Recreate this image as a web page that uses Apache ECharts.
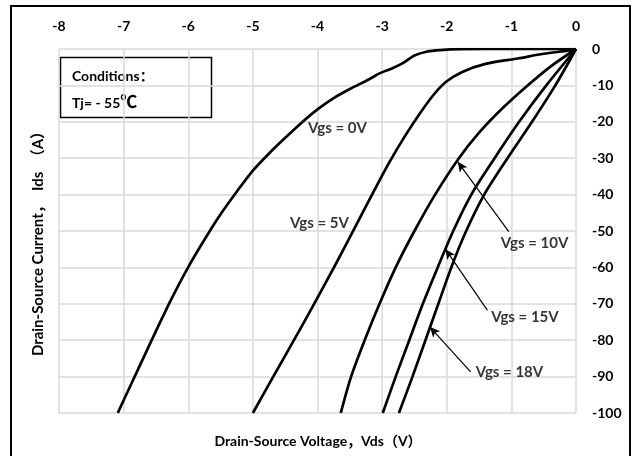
<!DOCTYPE html>
<html>
<head>
    <meta charset="utf-8" />
    <title>Drain-Source Characteristics</title>
    <style>
        html, body { margin: 0; padding: 0; background: #fff; }
    </style>
</head>
<body>
    <div id="divChart" style="width:637px;height:456px;"></div>

    <script src="https://cdn.jsdelivr.net/npm/echarts@6/dist/echarts.min.js"></script>
    <script>
        // curve data: [Vds (V), Ids (A)]
        var vgs0 = [[0, 0], [-1, 0], [-1.8, -0.05], [-2.1, -0.3], [-2.3, -0.7], [-2.5, -1.8], [-2.68, -3.9], [-2.84, -5.3],
            [-3.04, -6.7], [-3.2, -8.3], [-3.5, -11.0], [-3.75, -13.5], [-4.0, -16.6], [-4.25, -20.3], [-4.5, -24.4],
            [-4.75, -28.7], [-5.0, -33.4], [-5.25, -39.2], [-5.5, -45.4], [-5.75, -52.4], [-6.0, -59.9],
            [-6.25, -68.3], [-6.5, -77.5], [-6.75, -87], [-7.0, -96.5], [-7.09, -100]];
        var vgs5 = [[0, 0], [-0.1, -0.4], [-0.5, -1.3], [-0.9, -2.6], [-1.4, -4.1], [-1.76, -6.3], [-2.01, -9],
            [-2.2, -12.5], [-2.4, -17.3], [-2.65, -24.0], [-2.9, -31.5], [-3.15, -39.8], [-3.4, -48.3],
            [-3.65, -56.8], [-3.9, -65.1], [-4.15, -73.2], [-4.4, -81.1], [-4.7, -90.5], [-5.0, -100]];
        var vgs10 = [[0, 0], [-0.4, -4.9], [-0.78, -10.5], [-1.15, -16.5], [-1.5, -23], [-1.82, -30.2],
            [-2.18, -40], [-2.5, -50], [-2.79, -60], [-3.04, -70], [-3.27, -80], [-3.48, -90], [-3.64, -100]];
        var vgs15 = [[0, 0], [-0.46, -10], [-0.88, -20], [-1.26, -30], [-1.62, -40], [-1.9, -50],
            [-2.14, -60], [-2.37, -70], [-2.58, -80], [-2.79, -90], [-2.99, -100]];
        var vgs18 = [[0, 0], [-0.32, -10], [-0.68, -20], [-1.06, -30], [-1.42, -40], [-1.7, -50],
            [-1.93, -60], [-2.13, -70], [-2.33, -80], [-2.53, -90], [-2.74, -100]];

        var curveNames = ['Vgs = 0V', 'Vgs = 5V', 'Vgs = 10V', 'Vgs = 15V', 'Vgs = 18V'];
        var curves = [vgs0, vgs5, vgs10, vgs15, vgs18];

        // label anchor points and arrows (data coordinates)
        var labelPos = [[-3.69, -21.8], [-3.97, -47.9], [-0.64, -53.3], [-0.79, -73.7], [-1.03, -88.8]];
        var arrows = [
            [[-1.04, -50.2], [-1.83, -31.0]],
            [[-1.37, -71.8], [-2.02, -55.0]],
            [[-1.63, -88.7], [-2.26, -76.4]]
        ];

        var xTicks = { min: -8, max: 0, step: 1 };
        var yTicks = { min: -100, max: 0, step: 10 };

        var FONT = "Lato, 'Noto Sans CJK SC', sans-serif";

        var myChart = echarts.init(document.getElementById('divChart'), null, { renderer: 'canvas' });

        var series = curves.map(function (d, i) {
            return {
                name: curveNames[i],
                type: 'line',
                data: d,
                showSymbol: false,
                smooth: 0.3,
                lineStyle: { color: '#000', width: 2.7 },
                z: 3
            };
        });

        series.push({
            name: 'labels',
            type: 'scatter',
            symbolSize: 0,
            data: curveNames.map(function (n, i) { return { name: n, value: labelPos[i] }; }),
            label: {
                show: true,
                position: 'inside',
                formatter: '{b}',
                color: '#000',
                fontFamily: FONT,
                fontWeight: 'bold',
                fontSize: 15
            },
            markLine: {
                silent: true,
                symbol: ['none', 'arrow'],
                symbolSize: [7, 10],
                label: { show: false },
                lineStyle: { color: '#000', width: 1.2, type: 'solid' },
                data: arrows.map(function (a) {
                    return [{ coord: a[0] }, { coord: a[1] }];
                })
            },
            z: 4
        });

        var option = {
            backgroundColor: '#fff',
            animation: false,
            grid: { left: 59, right: 61, top: 49, bottom: 43 },
            xAxis: {
                type: 'value',
                position: 'top',
                min: xTicks.min,
                max: xTicks.max,
                interval: xTicks.step,
                axisLine: { show: false },
                axisTick: { show: false },
                splitLine: { show: true, lineStyle: { color: '#d9d9d9', width: 1.5 } },
                axisLabel: { margin: 16, color: '#000', fontFamily: FONT, fontWeight: 'bold', fontSize: 14 }
            },
            yAxis: {
                type: 'value',
                position: 'right',
                min: yTicks.min,
                max: yTicks.max,
                interval: yTicks.step,
                axisLine: { show: false },
                axisTick: { show: false },
                splitLine: { show: true, lineStyle: { color: '#d9d9d9', width: 1.5 } },
                axisLabel: { margin: 16, color: '#000', fontFamily: FONT, fontWeight: 'bold', fontSize: 14 }
            },
            series: series,
            graphic: [
                {   // outer frame (bottom edge falls outside the picture)
                    type: 'rect',
                    shape: { x: 11, y: 6, width: 619, height: 460 },
                    style: { fill: 'none', stroke: '#000', lineWidth: 2 },
                    z: 10
                },
                {
                    type: 'group',
                    z: 10,
                    children: [
                        {
                            type: 'rect',
                            shape: { x: 60.5, y: 57.5, width: 151, height: 60 },
                            style: { fill: '#fff', stroke: '#000', lineWidth: 1.5 }
                        },
                        {
                            type: 'text',
                            x: 72, y: 76,
                            style: {
                                text: 'Conditions：', fill: '#000', font: 'bold 14px ' + FONT,
                                verticalAlign: 'middle'
                            }
                        },
                        {
                            type: 'text',
                            x: 72, y: 103,
                            style: {
                                text: 'Tj= - 55{c|℃}', fill: '#000', font: 'bold 14px ' + FONT,
                                verticalAlign: 'middle',
                                rich: { c: { fontSize: 17, fontWeight: 'bold', fontFamily: FONT, fill: '#000' } }
                            }
                        }
                    ]
                },
                {
                    type: 'text',
                    x: 318, y: 441,
                    z: 10,
                    style: {
                        text: 'Drain-Source Voltage，Vds（V）', fill: '#000', font: 'bold 14px ' + FONT,
                        align: 'center', verticalAlign: 'middle'
                    }
                },
                {
                    type: 'text',
                    x: 38, y: 240,
                    rotation: Math.PI / 2,
                    z: 10,
                    style: {
                        text: 'Drain-Source Current，  Ids  （A）', fill: '#000', font: 'bold 15px ' + FONT,
                        align: 'center', verticalAlign: 'middle'
                    }
                }
            ]
        };

        myChart.setOption(option);
    </script>
</body>
</html>
